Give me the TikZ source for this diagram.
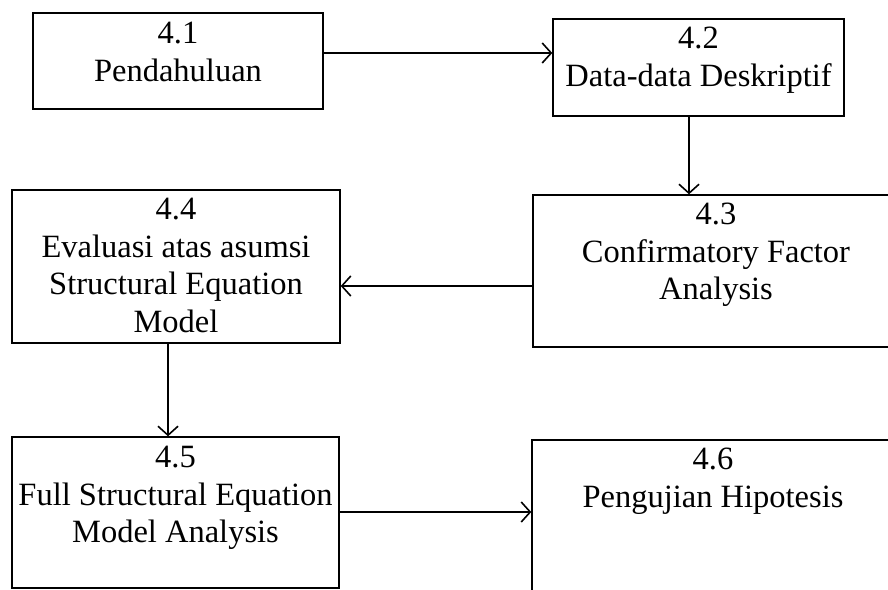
\documentclass[tikz,border=0pt]{standalone}
\usepackage{fontspec}
\setmainfont{Liberation Serif}
\usetikzlibrary{arrows.meta}

\tikzset{
  stagebox/.style={draw, rectangle, line width=1.4pt, inner sep=0pt},
  stagetext/.style={anchor=north, align=center, inner sep=0pt,
                    font=\fontsize{32.5}{37.5}\selectfont},
  flow/.style={line width=1.6pt,
               -{Straight Barb[length=9pt,width=20pt,line width=1.6pt]}}
}

\begin{document}
\begin{tikzpicture}[x=1pt,y=1pt]
  \clip (0,0) rectangle (888,589);
  \fill[white] (0,0) rectangle (888,589);

  % chapter stages
  \node[stagebox, minimum width=290pt, minimum height=96pt]  (b1) at (178,528)   {};
  \node[stagebox, minimum width=291pt, minimum height=97pt]  (b2) at (698.5,521.5) {};
  \node[stagebox, minimum width=366pt, minimum height=152pt] (b3) at (716,318)   {};
  \node[stagebox, minimum width=328pt, minimum height=153pt] (b4) at (176,322.5) {};
  \node[stagebox, minimum width=327pt, minimum height=151pt] (b5) at (175.5,76.5) {};
  \node[stagebox, minimum width=362pt, minimum height=170pt] (b6) at (713,64)    {};

  % stage titles
  \node[stagetext] (t1) at ([yshift=-5pt]b1.north) {\strut 4.1\\Pendahuluan};
  \node[stagetext] (t2) at ([yshift=-4pt]b2.north) {\strut 4.2\\Data-data Deskriptif};
  \node[stagetext] (t3) at ([yshift=-4pt]b3.north) {\strut 4.3\\Confirmatory Factor\\Analysis};
  \node[stagetext] (t4) at ([yshift=-4pt]b4.north) {\strut 4.4\\Evaluasi atas asumsi\\Structural Equation\\Model};
  \node[stagetext] (t5) at ([yshift=-5pt]b5.north) {\strut 4.5\\Full Structural Equation\\Model Analysis};
  \node[stagetext] (t6) at ([yshift=-4pt]b6.north) {\strut 4.6\\Pengujian Hipotesis};

  % flow between stages
  \draw[flow] (b1.east |- 0,536) -- (b2.west |- 0,536);
  \draw[flow] (b2.south -| 689,0) -- (b3.north -| 689,0);
  \draw[flow] (b3.west |- 0,303) -- (b4.east |- 0,303);
  \draw[flow] (b4.south -| 168,0) -- (b5.north -| 168,0);
  \draw[flow] (b5.east |- 0,77) -- (b6.west |- 0,77);
\end{tikzpicture}
\end{document}
